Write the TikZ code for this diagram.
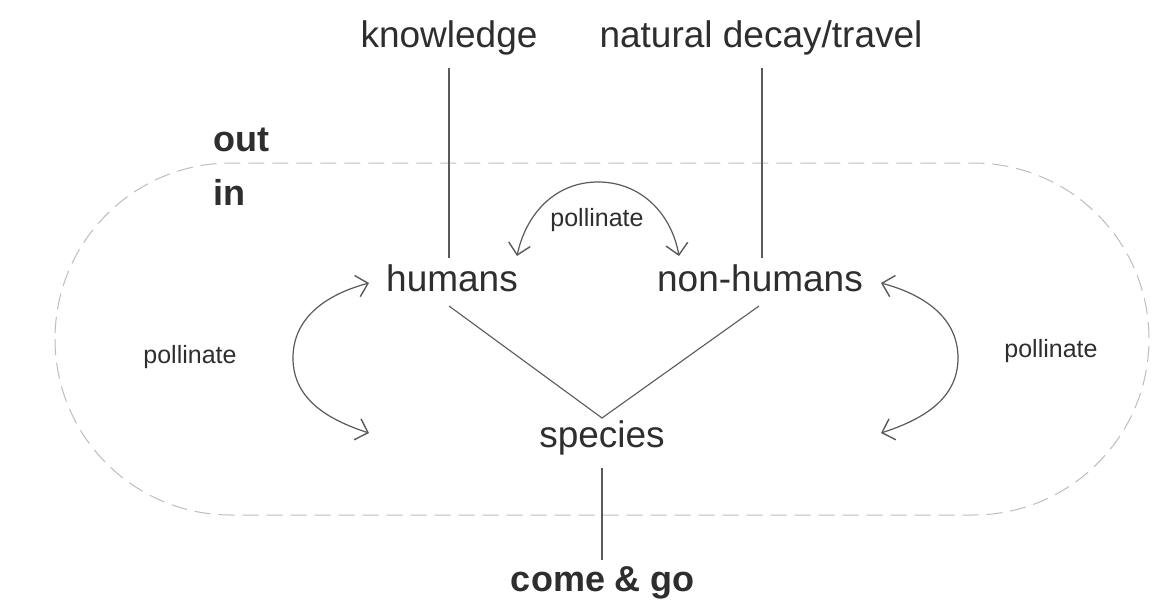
\documentclass[tikz,border=0pt]{standalone}
\usepackage{fontspec}
\setmainfont{Liberation Sans}
\usetikzlibrary{arrows.meta}
\definecolor{txt}{HTML}{2E2E2E}
\definecolor{ln}{HTML}{5A5A5A}
\definecolor{bnd}{HTML}{BDBDBD}
\tikzset{
  big/.style={inner sep=4pt, text=txt, font=\fontsize{37}{44}\selectfont},
  bigb/.style={inner sep=4pt, text=txt, font=\fontsize{36}{43}\selectfont\bfseries},
  small/.style={inner sep=2pt, text=txt, font=\fontsize{25}{30}\selectfont},
  conn/.style={draw=ln, line width=1.1pt},
  poll/.style={draw=ln, line width=1.2pt, {Straight Barb[length=11pt,width=22pt,line width=1.4pt]}-{Straight Barb[length=11pt,width=22pt,line width=1.4pt]}},
  boundary/.style={draw=bnd, line width=1pt, dash pattern=on 16pt off 8pt}
}
\begin{document}
\begin{tikzpicture}[x=1pt,y=-1pt]
\useasboundingbox (0,0) rectangle (1160,614);
\fill[white] (0,0) rectangle (1160,614);
% boundary
\draw[boundary, rounded corners=176pt] (55,163) rectangle (1149,515);
% texts
\node[big] (k) at (449,38) {knowledge};
\node[big] (nd) at (761,38) {natural decay/travel};
\node[bigb, anchor=west] (out) at (209,140) {out};
\node[bigb, anchor=west] (in) at (209,192) {in};
\node[big] (h) at (452,278) {humans};
\node[big] (nh) at (760,278) {non-humans};
\node[big] (sp) at (602,438) {species};
\node[bigb] (cg) at (603,583) {come \& go};
\node[small] (pt) at (597,220) {pollinate};
\node[small] (pl) at (190,357) {pollinate};
\node[small] (pr) at (1051,351) {pollinate};
% coordinates
\coordinate (kt) at (449,68);
\coordinate (kb) at (449,258);
\coordinate (nt) at (762,68);
\coordinate (nb) at (762,258);
\coordinate (hv) at (449,306);
\coordinate (nv) at (759,306);
\coordinate (v) at (602,418);
\coordinate (st) at (602,468);
\coordinate (sb) at (602,560);
\coordinate (t1) at (517,256);
\coordinate (t2) at (679,256);
\coordinate (l1) at (369,283);
\coordinate (l2) at (369,433);
\coordinate (r1) at (881,283);
\coordinate (r2) at (881,433);
% connectors
\draw[conn] (kt) -- (kb);
\draw[conn] (nt) -- (nb);
\draw[conn] (hv) -- (v) -- (nv);
\draw[conn] (st) -- (sb);
\draw[poll] (t1) to[out=78,in=180] (598,182) to[out=0,in=100] (t2);
\draw[poll] (l1) to[out=195,in=90] (293,358) to[out=-90,in=162] (l2);
\draw[poll] (r1) to[out=-15,in=90] (958,358) to[out=-90,in=18] (r2);
\end{tikzpicture}
\end{document}
